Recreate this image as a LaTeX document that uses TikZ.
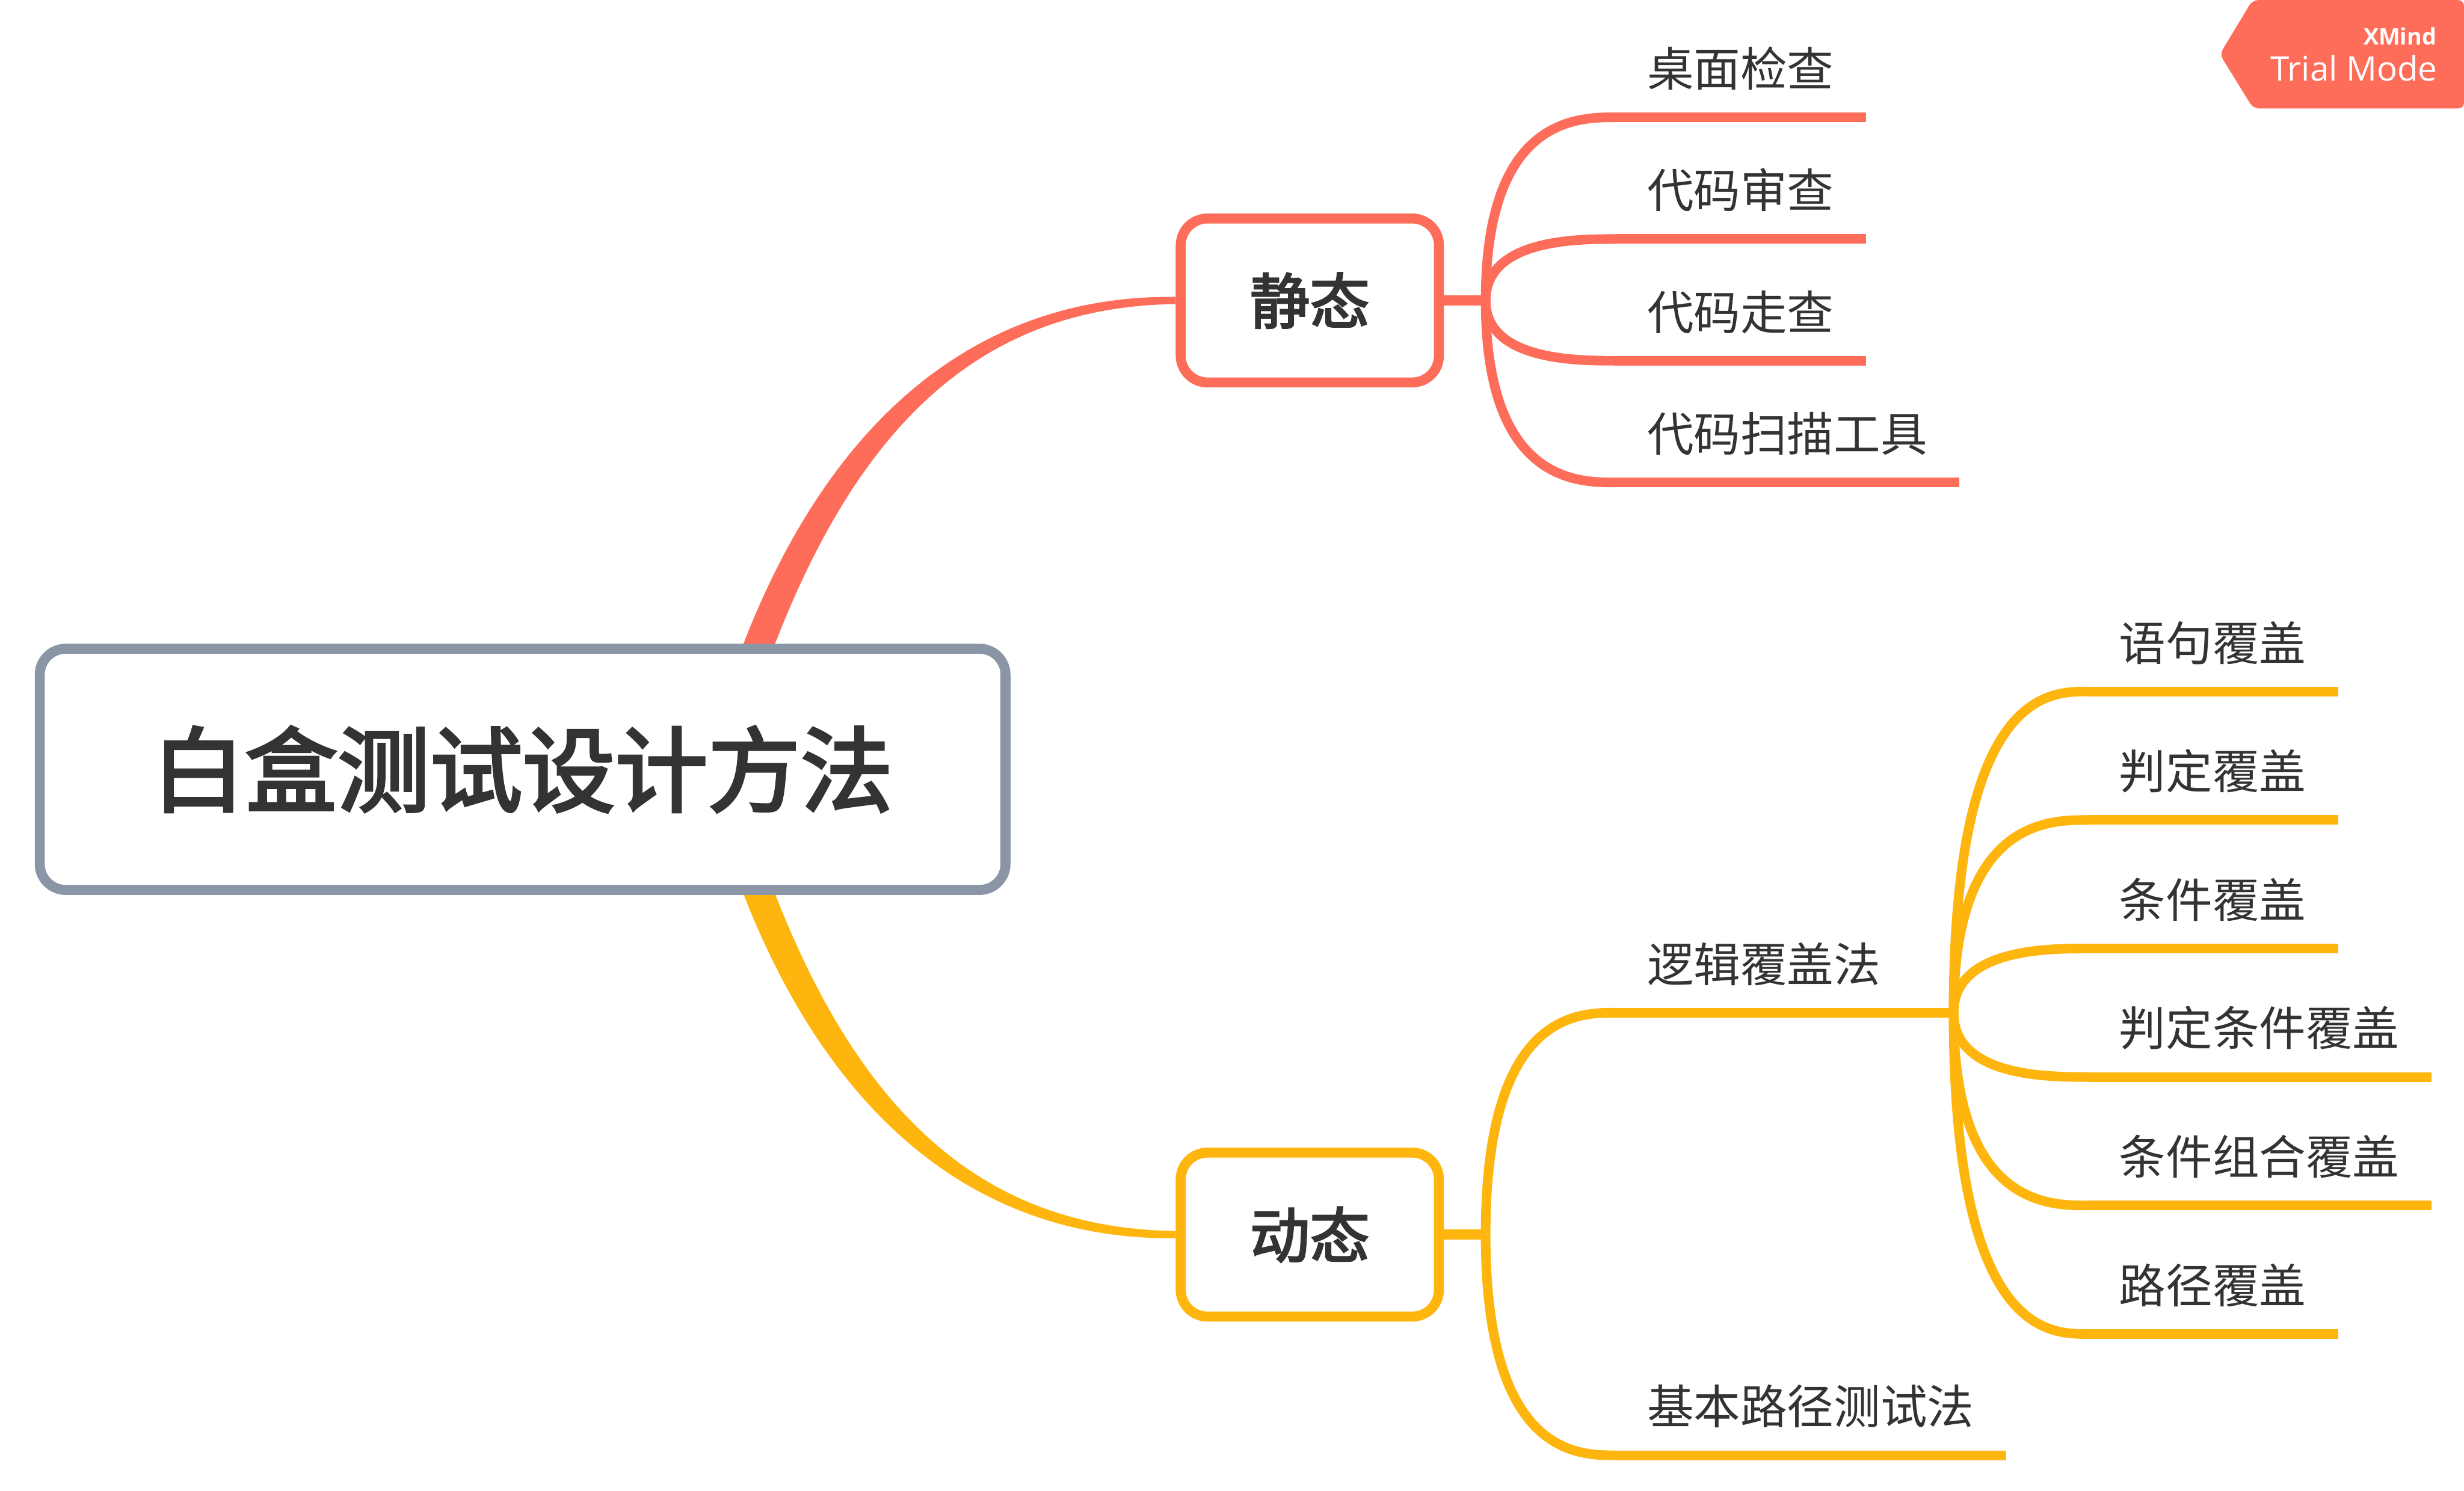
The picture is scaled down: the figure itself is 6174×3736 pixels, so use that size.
\documentclass[tikz,border=0pt]{standalone}
\usepackage{fontspec}
\newfontfamily\cjk{Noto Sans CJK SC}
\newfontfamily\cjkmed[FakeBold=3]{Noto Sans CJK SC}
\newfontfamily\badgefont{Open Sans}
\usetikzlibrary{calc}
\definecolor{cred}{HTML}{FE6D5A}
\definecolor{cyel}{HTML}{FEB50E}
\definecolor{cgray}{HTML}{8A95A6}
\definecolor{ctext}{HTML}{333333}
\pgfdeclarelayer{bg}
\pgfsetlayers{bg,main}
\newcommand\fancurve[3]{\draw[#1] (#2) .. controls (#2 |- #3) and ($(#2 |- #3)!0.714!(#3)$) .. (#3);}
\begin{document}
\begin{tikzpicture}[x=0.1pt,y=-0.1pt,
  rootbox/.style={draw=cgray, line width=2.5pt, fill=white, rounded corners=6.5pt,
    minimum width=242pt, minimum height=60.45pt, inner sep=0pt,
    font=\cjkmed\fontsize{23.2pt}{28pt}\selectfont, text=ctext},
  mainbox/.style={line width=2.5pt, fill=white, rounded corners=6.7pt,
    minimum width=64.7pt, minimum height=41.1pt, inner sep=0pt,
    font=\cjkmed\fontsize{15pt}{18pt}\selectfont, text=ctext},
  leaf/.style={anchor=south west, inner xsep=7.9pt, inner ysep=7.6pt, text depth=0pt,
    font=\cjk\fontsize{11.7pt}{14pt}\selectfont, text=ctext},
  uline/.style={draw=#1, line width=2.4pt},
  fanline/.style={draw=#1, line width=2.4pt},
  stub/.style={draw=#1, line width=2.6pt},
  badgetext/.style={text=white, inner sep=0pt, anchor=base east}
]
\useasboundingbox (0,0) rectangle (6174,3736);

% main topics
\node[rootbox] (root) at (1309.5,1928) {\raisebox{1.1pt}{白盒测试设计方法}};
\node[mainbox, draw=cred] (jt) at (3282,753) {\raisebox{0.8pt}{静态}};
\node[mainbox, draw=cyel] (dt) at (3282,3094) {\raisebox{0.8pt}{动态}};
\coordinate (rs) at (1800,1928);

% static leaves
\node[leaf] (j1) at (4046,294) {桌面检查};
\node[leaf] (j2) at (4046,599) {代码审查};
\node[leaf] (j3) at (4046,904) {代码走查};
\node[leaf] (j4) at (4046,1209) {代码扫描工具};
\coordinate (jfan) at ($(jt.east)+(104.5,0)$);

% dynamic children
\node[leaf] (lj) at (4046,2538) {逻辑覆盖法};
\node[leaf] (bj) at (4046,3647) {基本路径测试法};
\coordinate (dfan) at ($(dt.east)+(104.5,0)$);
\coordinate (lfan) at (4895,2538);

% logic coverage leaves
\node[leaf] (k1) at (5229,1733) {语句覆盖};
\node[leaf] (k2) at (5229,2055) {判定覆盖};
\node[leaf] (k3) at (5229,2377) {条件覆盖};
\node[leaf] (k4) at (5229,2699) {判定条件覆盖};
\node[leaf] (k5) at (5229,3021) {条件组合覆盖};
\node[leaf] (k6) at (5229,3343) {路径覆盖};

\begin{pgfonlayer}{bg}
\fill[white] (0,0) rectangle (6174,3736);
% tapered main branches
\fill[cred] ($(rs)+(-34.7,-9.5)$) .. controls ($(rs)+(213.3-43.4,-783.3-11.8)$) and ($(jt.west)+(-559,-16)$) .. ($(jt.west)+(0,-9)$)
  -- ($(jt.west)+(0,9)$) .. controls ($(jt.west)+(-559,16)$) and ($(rs)+(213.3+43.4,-783.3+11.8)$) .. ($(rs)+(34.7,9.5)$) -- cycle;
\fill[cyel] ($(rs)+(-34.7,9.5)$) .. controls ($(rs)+(213.3-43.4,777.3+11.8)$) and ($(dt.west)+(-559,16)$) .. ($(dt.west)+(0,9)$)
  -- ($(dt.west)+(0,-9)$) .. controls ($(dt.west)+(-559,-16)$) and ($(rs)+(213.3+43.4,777.3-11.8)$) .. ($(rs)+(34.7,-9.5)$) -- cycle;
\end{pgfonlayer}

% stubs
\draw[stub=cred] (jt.east) -- (jfan);
\draw[stub=cyel] (dt.east) -- (dfan);
\draw[uline=cyel] (lj.south east) -- (lfan);

% fan curves
\fancurve{fanline=cred}{jfan}{j1.south west}
\fancurve{fanline=cred}{jfan}{j2.south west}
\fancurve{fanline=cred}{jfan}{j3.south west}
\fancurve{fanline=cred}{jfan}{j4.south west}
\fancurve{fanline=cyel}{dfan}{lj.south west}
\fancurve{fanline=cyel}{dfan}{bj.south west}
\fancurve{fanline=cyel}{lfan}{k1.south west}
\fancurve{fanline=cyel}{lfan}{k2.south west}
\fancurve{fanline=cyel}{lfan}{k3.south west}
\fancurve{fanline=cyel}{lfan}{k4.south west}
\fancurve{fanline=cyel}{lfan}{k5.south west}
\fancurve{fanline=cyel}{lfan}{k6.south west}

% underlines
\foreach \n in {j1,j2,j3,j4} \draw[uline=cred] (\n.south west) -- (\n.south east);
\foreach \n in {lj,bj,k1,k2,k3,k4,k5,k6} \draw[uline=cyel] (\n.south west) -- (\n.south east);

% trial badge
\fill[cred, rounded corners=1.5pt] (5644,0) -- (5562,136) -- (5646,272) -- (6174,272) -- (6174,0) -- cycle;
\node[badgetext, font=\badgefont\bfseries\fontsize{5.7pt}{7pt}\selectfont] (xm) at (6107,112) {XMind};
\node[badgetext, font=\badgefont\fontsize{8.5pt}{10pt}\selectfont] (tm) at (6109,202) {Trial Mode};
\end{tikzpicture}
\end{document}
